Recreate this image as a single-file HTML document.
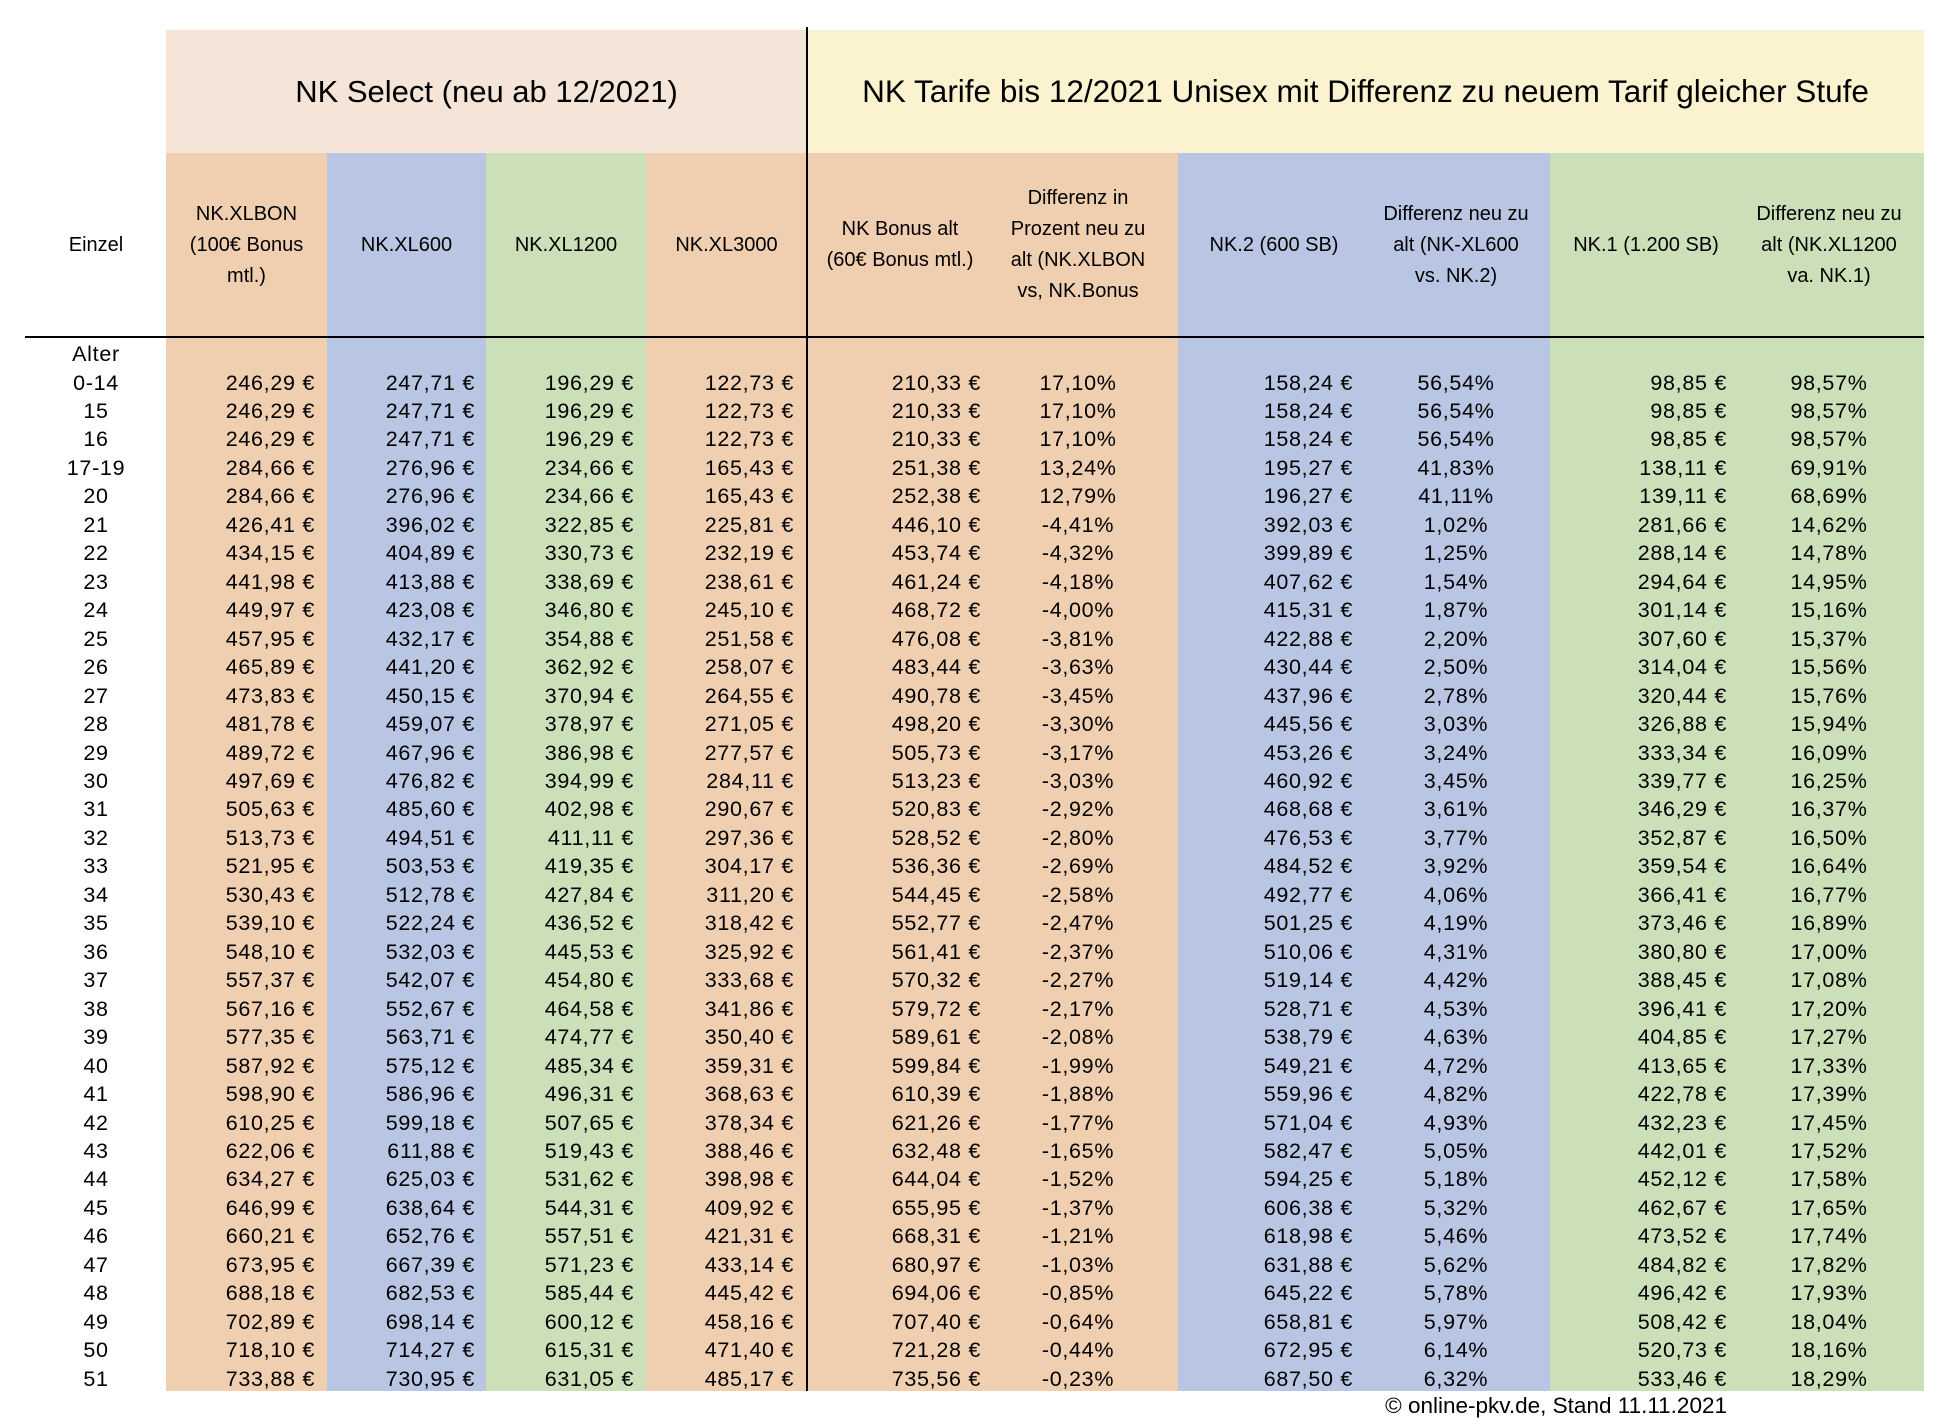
<!DOCTYPE html>
<html><head><meta charset="utf-8">
<style>
body{margin:0;width:1954px;height:1428px;background:#fff;position:relative;overflow:hidden;font-family:"Liberation Sans",Arial,sans-serif;color:#000}
.b{position:absolute}
.t{position:absolute;text-align:center;font-size:20px;line-height:31px;display:flex;align-items:center;justify-content:center}
.r{position:absolute;left:0;width:1954px;height:29px;font-size:21.5px;line-height:29px;letter-spacing:0.7px}
.r span{position:absolute;top:0;white-space:nowrap}
.c0{left:26px;width:140px;text-align:center}
.c1{right:1639px;text-align:right}
.c2{right:1479px;text-align:right}
.c3{right:1320px;text-align:right}
.c4{right:1160px;text-align:right}
.c5{right:973px;text-align:right}
.c6{left:998px;width:160px;text-align:center}
.c7{right:601px;text-align:right}
.c8{left:1376px;width:160px;text-align:center}
.c9{right:227px;text-align:right}
.c10{left:1749px;width:160px;text-align:center}
</style></head><body>
<div class="b" style="left:166px;top:30px;width:641px;height:123px;background:#f5e5d8"></div>
<div class="b" style="left:807px;top:30px;width:1117px;height:123px;background:#fbf3d0"></div>
<div class="b" style="left:166px;top:153px;width:161px;height:1238px;background:#f0cfb0"></div>
<div class="b" style="left:327px;top:153px;width:159px;height:1238px;background:#b8c6e4"></div>
<div class="b" style="left:486px;top:153px;width:160px;height:1238px;background:#cbdfb8"></div>
<div class="b" style="left:646px;top:153px;width:161px;height:1238px;background:#f0cfb0"></div>
<div class="b" style="left:807px;top:153px;width:371px;height:1238px;background:#f0cfb0"></div>
<div class="b" style="left:1178px;top:153px;width:372px;height:1238px;background:#b8c6e4"></div>
<div class="b" style="left:1550px;top:153px;width:374px;height:1238px;background:#cbdfb8"></div>
<div class="b" style="left:806px;top:27px;width:2px;height:1364px;background:#000"></div>
<div class="b" style="left:25px;top:336px;width:1899px;height:2px;background:#000"></div>

<div class="t" style="left:166px;top:30px;width:641px;height:123px;font-size:31px">NK Select (neu ab 12/2021)</div>
<div class="t" style="left:807px;top:30px;width:1117px;height:123px;font-size:31.5px">NK Tarife bis 12/2021 Unisex mit Differenz zu neuem Tarif gleicher Stufe</div>

<div class="t" style="left:26px;top:153px;width:140px;height:184px">Einzel</div>
<div class="t" style="left:166px;top:153px;width:161px;height:184px">NK.XLBON<br>(100€ Bonus<br>mtl.)</div>
<div class="t" style="left:327px;top:153px;width:159px;height:184px">NK.XL600</div>
<div class="t" style="left:486px;top:153px;width:160px;height:184px">NK.XL1200</div>
<div class="t" style="left:646px;top:153px;width:161px;height:184px">NK.XL3000</div>
<div class="t" style="left:805px;top:153px;width:190px;height:184px">NK Bonus alt<br>(60€ Bonus mtl.)</div>
<div class="t" style="left:993px;top:153px;width:170px;height:184px">Differenz in<br>Prozent neu zu<br>alt (NK.XLBON<br>vs, NK.Bonus</div>
<div class="t" style="left:1179px;top:153px;width:190px;height:184px">NK.2 (600 SB)</div>
<div class="t" style="left:1366px;top:153px;width:180px;height:184px">Differenz neu zu<br>alt (NK-XL600<br>vs. NK.2)</div>
<div class="t" style="left:1551px;top:153px;width:190px;height:184px">NK.1 (1.200 SB)</div>
<div class="t" style="left:1736px;top:153px;width:186px;height:184px">Differenz neu zu<br>alt (NK.XL1200<br>va. NK.1)</div>

<div class="r" style="top:339.5px"><span class="c0">Alter</span></div>
<div class="r" style="top:368.5px"><span class="c0">0-14</span><span class="c1">246,29 €</span><span class="c2">247,71 €</span><span class="c3">196,29 €</span><span class="c4">122,73 €</span><span class="c5">210,33 €</span><span class="c6">17,10%</span><span class="c7">158,24 €</span><span class="c8">56,54%</span><span class="c9">98,85 €</span><span class="c10">98,57%</span></div>
<div class="r" style="top:397px"><span class="c0">15</span><span class="c1">246,29 €</span><span class="c2">247,71 €</span><span class="c3">196,29 €</span><span class="c4">122,73 €</span><span class="c5">210,33 €</span><span class="c6">17,10%</span><span class="c7">158,24 €</span><span class="c8">56,54%</span><span class="c9">98,85 €</span><span class="c10">98,57%</span></div>
<div class="r" style="top:425.4px"><span class="c0">16</span><span class="c1">246,29 €</span><span class="c2">247,71 €</span><span class="c3">196,29 €</span><span class="c4">122,73 €</span><span class="c5">210,33 €</span><span class="c6">17,10%</span><span class="c7">158,24 €</span><span class="c8">56,54%</span><span class="c9">98,85 €</span><span class="c10">98,57%</span></div>
<div class="r" style="top:453.9px"><span class="c0">17-19</span><span class="c1">284,66 €</span><span class="c2">276,96 €</span><span class="c3">234,66 €</span><span class="c4">165,43 €</span><span class="c5">251,38 €</span><span class="c6">13,24%</span><span class="c7">195,27 €</span><span class="c8">41,83%</span><span class="c9">138,11 €</span><span class="c10">69,91%</span></div>
<div class="r" style="top:482.3px"><span class="c0">20</span><span class="c1">284,66 €</span><span class="c2">276,96 €</span><span class="c3">234,66 €</span><span class="c4">165,43 €</span><span class="c5">252,38 €</span><span class="c6">12,79%</span><span class="c7">196,27 €</span><span class="c8">41,11%</span><span class="c9">139,11 €</span><span class="c10">68,69%</span></div>
<div class="r" style="top:510.8px"><span class="c0">21</span><span class="c1">426,41 €</span><span class="c2">396,02 €</span><span class="c3">322,85 €</span><span class="c4">225,81 €</span><span class="c5">446,10 €</span><span class="c6">-4,41%</span><span class="c7">392,03 €</span><span class="c8">1,02%</span><span class="c9">281,66 €</span><span class="c10">14,62%</span></div>
<div class="r" style="top:539.3px"><span class="c0">22</span><span class="c1">434,15 €</span><span class="c2">404,89 €</span><span class="c3">330,73 €</span><span class="c4">232,19 €</span><span class="c5">453,74 €</span><span class="c6">-4,32%</span><span class="c7">399,89 €</span><span class="c8">1,25%</span><span class="c9">288,14 €</span><span class="c10">14,78%</span></div>
<div class="r" style="top:567.7px"><span class="c0">23</span><span class="c1">441,98 €</span><span class="c2">413,88 €</span><span class="c3">338,69 €</span><span class="c4">238,61 €</span><span class="c5">461,24 €</span><span class="c6">-4,18%</span><span class="c7">407,62 €</span><span class="c8">1,54%</span><span class="c9">294,64 €</span><span class="c10">14,95%</span></div>
<div class="r" style="top:596.2px"><span class="c0">24</span><span class="c1">449,97 €</span><span class="c2">423,08 €</span><span class="c3">346,80 €</span><span class="c4">245,10 €</span><span class="c5">468,72 €</span><span class="c6">-4,00%</span><span class="c7">415,31 €</span><span class="c8">1,87%</span><span class="c9">301,14 €</span><span class="c10">15,16%</span></div>
<div class="r" style="top:624.6px"><span class="c0">25</span><span class="c1">457,95 €</span><span class="c2">432,17 €</span><span class="c3">354,88 €</span><span class="c4">251,58 €</span><span class="c5">476,08 €</span><span class="c6">-3,81%</span><span class="c7">422,88 €</span><span class="c8">2,20%</span><span class="c9">307,60 €</span><span class="c10">15,37%</span></div>
<div class="r" style="top:653.1px"><span class="c0">26</span><span class="c1">465,89 €</span><span class="c2">441,20 €</span><span class="c3">362,92 €</span><span class="c4">258,07 €</span><span class="c5">483,44 €</span><span class="c6">-3,63%</span><span class="c7">430,44 €</span><span class="c8">2,50%</span><span class="c9">314,04 €</span><span class="c10">15,56%</span></div>
<div class="r" style="top:681.6px"><span class="c0">27</span><span class="c1">473,83 €</span><span class="c2">450,15 €</span><span class="c3">370,94 €</span><span class="c4">264,55 €</span><span class="c5">490,78 €</span><span class="c6">-3,45%</span><span class="c7">437,96 €</span><span class="c8">2,78%</span><span class="c9">320,44 €</span><span class="c10">15,76%</span></div>
<div class="r" style="top:710px"><span class="c0">28</span><span class="c1">481,78 €</span><span class="c2">459,07 €</span><span class="c3">378,97 €</span><span class="c4">271,05 €</span><span class="c5">498,20 €</span><span class="c6">-3,30%</span><span class="c7">445,56 €</span><span class="c8">3,03%</span><span class="c9">326,88 €</span><span class="c10">15,94%</span></div>
<div class="r" style="top:738.5px"><span class="c0">29</span><span class="c1">489,72 €</span><span class="c2">467,96 €</span><span class="c3">386,98 €</span><span class="c4">277,57 €</span><span class="c5">505,73 €</span><span class="c6">-3,17%</span><span class="c7">453,26 €</span><span class="c8">3,24%</span><span class="c9">333,34 €</span><span class="c10">16,09%</span></div>
<div class="r" style="top:766.9px"><span class="c0">30</span><span class="c1">497,69 €</span><span class="c2">476,82 €</span><span class="c3">394,99 €</span><span class="c4">284,11 €</span><span class="c5">513,23 €</span><span class="c6">-3,03%</span><span class="c7">460,92 €</span><span class="c8">3,45%</span><span class="c9">339,77 €</span><span class="c10">16,25%</span></div>
<div class="r" style="top:795.4px"><span class="c0">31</span><span class="c1">505,63 €</span><span class="c2">485,60 €</span><span class="c3">402,98 €</span><span class="c4">290,67 €</span><span class="c5">520,83 €</span><span class="c6">-2,92%</span><span class="c7">468,68 €</span><span class="c8">3,61%</span><span class="c9">346,29 €</span><span class="c10">16,37%</span></div>
<div class="r" style="top:823.9px"><span class="c0">32</span><span class="c1">513,73 €</span><span class="c2">494,51 €</span><span class="c3">411,11 €</span><span class="c4">297,36 €</span><span class="c5">528,52 €</span><span class="c6">-2,80%</span><span class="c7">476,53 €</span><span class="c8">3,77%</span><span class="c9">352,87 €</span><span class="c10">16,50%</span></div>
<div class="r" style="top:852.3px"><span class="c0">33</span><span class="c1">521,95 €</span><span class="c2">503,53 €</span><span class="c3">419,35 €</span><span class="c4">304,17 €</span><span class="c5">536,36 €</span><span class="c6">-2,69%</span><span class="c7">484,52 €</span><span class="c8">3,92%</span><span class="c9">359,54 €</span><span class="c10">16,64%</span></div>
<div class="r" style="top:880.8px"><span class="c0">34</span><span class="c1">530,43 €</span><span class="c2">512,78 €</span><span class="c3">427,84 €</span><span class="c4">311,20 €</span><span class="c5">544,45 €</span><span class="c6">-2,58%</span><span class="c7">492,77 €</span><span class="c8">4,06%</span><span class="c9">366,41 €</span><span class="c10">16,77%</span></div>
<div class="r" style="top:909.2px"><span class="c0">35</span><span class="c1">539,10 €</span><span class="c2">522,24 €</span><span class="c3">436,52 €</span><span class="c4">318,42 €</span><span class="c5">552,77 €</span><span class="c6">-2,47%</span><span class="c7">501,25 €</span><span class="c8">4,19%</span><span class="c9">373,46 €</span><span class="c10">16,89%</span></div>
<div class="r" style="top:937.7px"><span class="c0">36</span><span class="c1">548,10 €</span><span class="c2">532,03 €</span><span class="c3">445,53 €</span><span class="c4">325,92 €</span><span class="c5">561,41 €</span><span class="c6">-2,37%</span><span class="c7">510,06 €</span><span class="c8">4,31%</span><span class="c9">380,80 €</span><span class="c10">17,00%</span></div>
<div class="r" style="top:966.2px"><span class="c0">37</span><span class="c1">557,37 €</span><span class="c2">542,07 €</span><span class="c3">454,80 €</span><span class="c4">333,68 €</span><span class="c5">570,32 €</span><span class="c6">-2,27%</span><span class="c7">519,14 €</span><span class="c8">4,42%</span><span class="c9">388,45 €</span><span class="c10">17,08%</span></div>
<div class="r" style="top:994.6px"><span class="c0">38</span><span class="c1">567,16 €</span><span class="c2">552,67 €</span><span class="c3">464,58 €</span><span class="c4">341,86 €</span><span class="c5">579,72 €</span><span class="c6">-2,17%</span><span class="c7">528,71 €</span><span class="c8">4,53%</span><span class="c9">396,41 €</span><span class="c10">17,20%</span></div>
<div class="r" style="top:1023.1px"><span class="c0">39</span><span class="c1">577,35 €</span><span class="c2">563,71 €</span><span class="c3">474,77 €</span><span class="c4">350,40 €</span><span class="c5">589,61 €</span><span class="c6">-2,08%</span><span class="c7">538,79 €</span><span class="c8">4,63%</span><span class="c9">404,85 €</span><span class="c10">17,27%</span></div>
<div class="r" style="top:1051.5px"><span class="c0">40</span><span class="c1">587,92 €</span><span class="c2">575,12 €</span><span class="c3">485,34 €</span><span class="c4">359,31 €</span><span class="c5">599,84 €</span><span class="c6">-1,99%</span><span class="c7">549,21 €</span><span class="c8">4,72%</span><span class="c9">413,65 €</span><span class="c10">17,33%</span></div>
<div class="r" style="top:1080px"><span class="c0">41</span><span class="c1">598,90 €</span><span class="c2">586,96 €</span><span class="c3">496,31 €</span><span class="c4">368,63 €</span><span class="c5">610,39 €</span><span class="c6">-1,88%</span><span class="c7">559,96 €</span><span class="c8">4,82%</span><span class="c9">422,78 €</span><span class="c10">17,39%</span></div>
<div class="r" style="top:1108.5px"><span class="c0">42</span><span class="c1">610,25 €</span><span class="c2">599,18 €</span><span class="c3">507,65 €</span><span class="c4">378,34 €</span><span class="c5">621,26 €</span><span class="c6">-1,77%</span><span class="c7">571,04 €</span><span class="c8">4,93%</span><span class="c9">432,23 €</span><span class="c10">17,45%</span></div>
<div class="r" style="top:1136.9px"><span class="c0">43</span><span class="c1">622,06 €</span><span class="c2">611,88 €</span><span class="c3">519,43 €</span><span class="c4">388,46 €</span><span class="c5">632,48 €</span><span class="c6">-1,65%</span><span class="c7">582,47 €</span><span class="c8">5,05%</span><span class="c9">442,01 €</span><span class="c10">17,52%</span></div>
<div class="r" style="top:1165.4px"><span class="c0">44</span><span class="c1">634,27 €</span><span class="c2">625,03 €</span><span class="c3">531,62 €</span><span class="c4">398,98 €</span><span class="c5">644,04 €</span><span class="c6">-1,52%</span><span class="c7">594,25 €</span><span class="c8">5,18%</span><span class="c9">452,12 €</span><span class="c10">17,58%</span></div>
<div class="r" style="top:1193.8px"><span class="c0">45</span><span class="c1">646,99 €</span><span class="c2">638,64 €</span><span class="c3">544,31 €</span><span class="c4">409,92 €</span><span class="c5">655,95 €</span><span class="c6">-1,37%</span><span class="c7">606,38 €</span><span class="c8">5,32%</span><span class="c9">462,67 €</span><span class="c10">17,65%</span></div>
<div class="r" style="top:1222.3px"><span class="c0">46</span><span class="c1">660,21 €</span><span class="c2">652,76 €</span><span class="c3">557,51 €</span><span class="c4">421,31 €</span><span class="c5">668,31 €</span><span class="c6">-1,21%</span><span class="c7">618,98 €</span><span class="c8">5,46%</span><span class="c9">473,52 €</span><span class="c10">17,74%</span></div>
<div class="r" style="top:1250.8px"><span class="c0">47</span><span class="c1">673,95 €</span><span class="c2">667,39 €</span><span class="c3">571,23 €</span><span class="c4">433,14 €</span><span class="c5">680,97 €</span><span class="c6">-1,03%</span><span class="c7">631,88 €</span><span class="c8">5,62%</span><span class="c9">484,82 €</span><span class="c10">17,82%</span></div>
<div class="r" style="top:1279.2px"><span class="c0">48</span><span class="c1">688,18 €</span><span class="c2">682,53 €</span><span class="c3">585,44 €</span><span class="c4">445,42 €</span><span class="c5">694,06 €</span><span class="c6">-0,85%</span><span class="c7">645,22 €</span><span class="c8">5,78%</span><span class="c9">496,42 €</span><span class="c10">17,93%</span></div>
<div class="r" style="top:1307.7px"><span class="c0">49</span><span class="c1">702,89 €</span><span class="c2">698,14 €</span><span class="c3">600,12 €</span><span class="c4">458,16 €</span><span class="c5">707,40 €</span><span class="c6">-0,64%</span><span class="c7">658,81 €</span><span class="c8">5,97%</span><span class="c9">508,42 €</span><span class="c10">18,04%</span></div>
<div class="r" style="top:1336.1px"><span class="c0">50</span><span class="c1">718,10 €</span><span class="c2">714,27 €</span><span class="c3">615,31 €</span><span class="c4">471,40 €</span><span class="c5">721,28 €</span><span class="c6">-0,44%</span><span class="c7">672,95 €</span><span class="c8">6,14%</span><span class="c9">520,73 €</span><span class="c10">18,16%</span></div>
<div class="r" style="top:1364.6px"><span class="c0">51</span><span class="c1">733,88 €</span><span class="c2">730,95 €</span><span class="c3">631,05 €</span><span class="c4">485,17 €</span><span class="c5">735,56 €</span><span class="c6">-0,23%</span><span class="c7">687,50 €</span><span class="c8">6,32%</span><span class="c9">533,46 €</span><span class="c10">18,29%</span></div>

<div class="b" style="right:227px;top:1392px;font-size:22.5px;line-height:28px;white-space:nowrap">© online-pkv.de, Stand 11.11.2021</div>
</body></html>
